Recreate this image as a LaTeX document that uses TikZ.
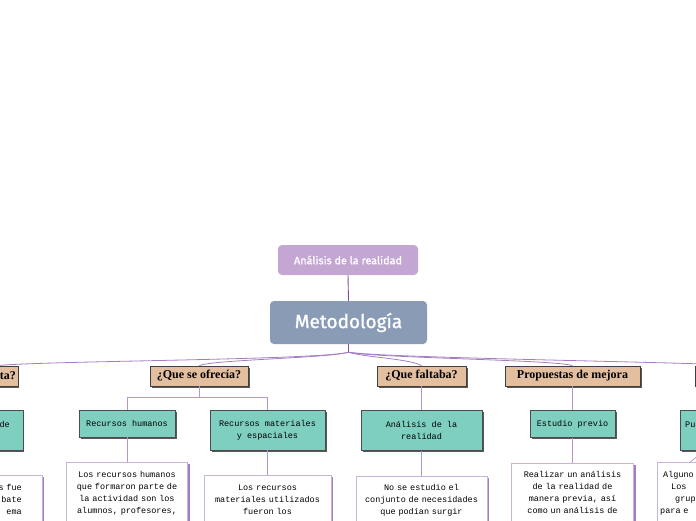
\documentclass[tikz,border=0pt]{standalone}
\usepackage{fontspec}
\usepackage{tikz}
\usetikzlibrary{positioning,shadows}
\setmainfont{Liberation Serif}
\newfontfamily\titlefont{Fira Sans}[FakeBold=1.2]
\newfontfamily\notefont{Liberation Mono}
\definecolor{lilac}{HTML}{C4A6D3}
\definecolor{slate}{HTML}{8A9CB5}
\definecolor{tan}{HTML}{E4BF9F}
\definecolor{mint}{HTML}{7ECFC0}
\definecolor{plum}{HTML}{A47CC2}
\definecolor{darkplum}{HTML}{7E4FA3}
\definecolor{noteline}{HTML}{C8B4D8}

\begin{document}
\begin{tikzpicture}[
  x=1pt, y=-1pt,
  title/.style={rounded corners=4pt, text=white, font=\titlefont, inner sep=0pt},
  topic/.style={draw=black!75, fill=tan, font=\bfseries\fontsize{12}{13}\selectfont,
                minimum height=20pt, inner sep=2pt,
                drop shadow={shadow xshift=1.6pt, shadow yshift=-1.6pt, fill=black!65, opacity=1}},
  sub/.style={draw=black!70, fill=mint, align=center, inner sep=4pt,
              font=\notefont\fontsize{8.5}{12}\selectfont,
              drop shadow={shadow xshift=1.6pt, shadow yshift=-1.6pt, fill=black!65, opacity=1}},
  note/.style={draw=noteline, fill=white, align=center, inner xsep=6pt, inner ysep=9pt,
               font=\notefont\fontsize{8.5}{12}\selectfont,
               drop shadow={shadow xshift=2pt, shadow yshift=-2pt, fill=plum, opacity=1}},
  branch/.style={draw=plum, line width=0.8pt},
  link/.style={draw=plum!80, line width=0.7pt}
]
  \useasboundingbox (0,0) rectangle (696,520);
  \clip (0,0) rectangle (696,520);

  % centre
  \node[title, fill=lilac, minimum width=140pt, minimum height=30pt,
        font=\titlefont\fontsize{10.8}{12}\selectfont] (anal) at (348,260) {Análisis de la realidad};
  \node[title, fill=slate, minimum width=157pt, minimum height=43pt,
        font=\titlefont\fontsize{19}{22}\selectfont] (met) at (348.5,322.5) {Metodología};
  \draw[draw=darkplum, line width=0.9pt] (anal.south) -- (met.north);
  \draw[draw=darkplum, line width=0.9pt] (met.south) -- ++(0,8) coordinate (hub);

  % questions
  \node[topic, anchor=east, text width=40pt, align=right] (q1) at (18,376) {ta?};
  \node[topic, minimum width=98pt] (q2) at (199,376) {¿Que se ofrecía?};
  \node[topic, minimum width=89pt] (q3) at (421.5,376) {¿Que faltaba?};
  \node[topic, minimum width=135pt] (q4) at (572.5,376) {Propuestas de mejora};
  \node[topic, anchor=west, minimum width=100pt] (q5) at (695,376) {};

  \draw[branch] (hub) .. controls +(-30,8) and +(40,-5) .. (q1.north);
  \draw[branch] (hub) .. controls +(-20,6) and +(10,-6) .. (q2.north);
  \draw[branch] (hub) .. controls +(15,5) and +(-10,-7) .. (q3.north);
  \draw[branch] (hub) .. controls +(30,6) and +(-12,-6) .. (q4.north);
  \draw[branch] (hub) .. controls +(40,6) and +(-60,-4) .. (q5.north);

  % answers
  \node[sub, anchor=north east, text width=30pt, align=right, inner xsep=13pt,
        minimum height=40pt] (s1) at (23,410) {de\\\mbox{}};
  \node[sub, minimum width=96pt, minimum height=27pt] (s2) at (127,423.5) {Recursos humanos};
  \node[sub, minimum width=115pt, minimum height=40pt] (s3) at (267.5,430) {Recursos materiales\\y espaciales};
  \node[sub, minimum width=121pt, minimum height=40pt, below=24pt of q3] (s4) {Análisis de la\\realidad};
  \node[sub, minimum width=85pt, minimum height=27pt, below=24pt of q4] (s5) {Estudio previo};
  \node[sub, anchor=north west, text width=40pt, align=left, inner xsep=5pt,
        minimum height=40pt] (s6) at (680,410) {Pu\\\mbox{}};

  \draw[link] (q1.south) -- (s1.north);
  \draw[link] (q2.south) -- ++(0,11) coordinate (q2j) -| (s2.north);
  \draw[link] (q2j) -| (s3.north);
  \draw[link] (q3.south) -- (s4.north);
  \draw[link] (q4.south) -- (s5.north);
  \draw[link] (q5.south) -- (s6.north);

  % notes
  \node[note, anchor=north east, text width=60pt, align=right, inner xsep=20pt] (t1) at (42,475)
    {s fue\\bate\\ema};
  \node[note, text width=109pt, below=25pt of s2] (t2)
    {Los recursos humanos\\que formaron parte de\\la actividad son los\\alumnos, profesores,};
  \node[note, text width=115pt, below=25pt of s3] (t3)
    {Los recursos\\materiales utilizados\\fueron los};
  \node[note, text width=119pt, below=25pt of s4] (t4)
    {No se estudio el\\conjunto de necesidades\\que podían surgir};
  \node[note, text width=110pt, below=25pt of s5] (t5)
    {Realizar un análisis\\de la realidad de\\manera previa, así\\como un análisis de};
  \node[note, anchor=north west, text width=60pt, align=left, inner xsep=3pt] (t6) at (657,462)
    {\hspace{3pt}Alguno\\\hspace{11pt}Los\\\hspace{15pt}grupo\\para e};

  \draw[link] (s1.south) -- (t1.north);
  \draw[link] (s2.south) -- (t2.north);
  \draw[link] (s3.south) -- (t3.north);
  \draw[link] (s4.south) -- (t4.north);
  \draw[link] (s5.south) -- (t5.north);
  \draw[link] (s6.south) -- (t6.north);
\end{tikzpicture}
\end{document}
